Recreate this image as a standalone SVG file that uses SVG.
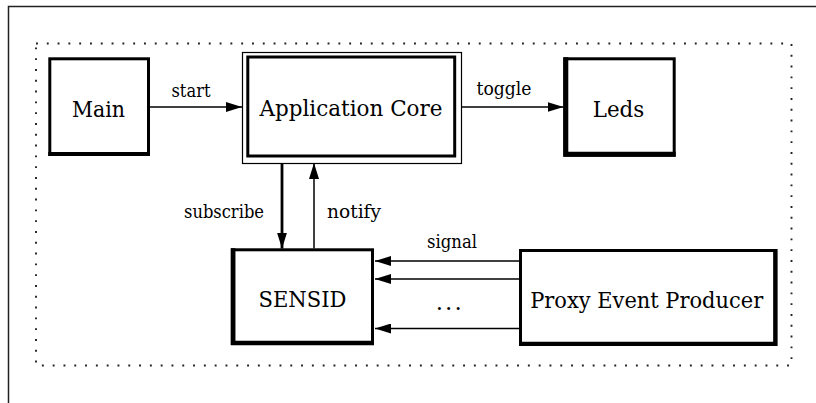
<svg xmlns="http://www.w3.org/2000/svg" width="816" height="403" viewBox="0 0 816 403">
  <style>
    .frame { fill: none; stroke: #222; stroke-width: 1.5; }
    .dotted { fill: none; stroke: #222; stroke-width: 1.9; stroke-dasharray: 1.9 8.9; }
    .box { fill: #fff; stroke: #000; stroke-width: 3; }
    .shadow { fill: none; stroke: #000; }
    .thin { fill: none; stroke: #000; stroke-width: 1.2; }
    .label { font-family: 'DejaVu Serif', 'Liberation Serif', serif; fill: #000; text-anchor: middle; }
    .name { font-size: 23px; }
    .edge-label { font-size: 18px; }
    .conn { fill: none; stroke: #000; stroke-width: 1.5; }
    .conn-bold { fill: none; stroke: #000; stroke-width: 2.8; }
  </style>
  <defs>
    <marker id="arrow" viewBox="0 0 16 10" refX="16" refY="5" markerWidth="16" markerHeight="10" markerUnits="userSpaceOnUse" orient="auto">
      <path d="M0,0 L16,5 L0,10 Z" fill="#000"/>
    </marker>
  </defs>

  <rect width="816" height="403" fill="#fff"/>

  <!-- page frame (only top and left edges fall inside the view) -->
  <path class="frame" d="M8.5,403 V6.5 H816"/>

  <!-- dotted system boundary -->
  <rect class="dotted" x="36" y="43.5" width="755.5" height="322"/>

  <g id="main">
    <rect class="box" x="49.8" y="58.8" width="98.7" height="95.7"/>
    <line class="shadow" x1="48.3" y1="154" x2="150" y2="154" stroke-width="4"/>
    <text class="label name" x="98.5" y="116.5" textLength="53" lengthAdjust="spacingAndGlyphs">Main</text>
  </g>

  <g id="application-core">
    <rect class="thin" x="242.5" y="52.5" width="219" height="111"/>
    <rect class="box" x="247.8" y="57" width="206.9" height="99" stroke-width="4.2"/>
    <text class="label name" x="351" y="116" textLength="183" lengthAdjust="spacingAndGlyphs">Application Core</text>
  </g>

  <g id="leds">
    <rect class="box" x="564.8" y="58.8" width="109.4" height="96.4"/>
    <path class="shadow" d="M565.8,57.3 V154.2 H675.7" stroke-width="5"/>
    <text class="label name" x="618.5" y="117" textLength="51.5" lengthAdjust="spacingAndGlyphs">Leds</text>
  </g>

  <g id="sensid">
    <rect class="box" x="232.2" y="249.8" width="140.3" height="93.7"/>
    <path class="shadow" d="M233.2,248.3 V343 H374" stroke-width="4.5"/>
    <text class="label name" x="302.5" y="307.3" textLength="88" lengthAdjust="spacingAndGlyphs">SENSID</text>
  </g>

  <g id="proxy-event-producer">
    <rect class="box" x="520.5" y="250.5" width="255.3" height="94"/>
    <path class="shadow" d="M519,343.8 H775.3 V249" stroke-width="4.3"/>
    <text class="label name" x="646.7" y="308.3" textLength="233" lengthAdjust="spacingAndGlyphs">Proxy Event Producer</text>
  </g>

  <g id="connectors">
    <!-- Main -> Application Core -->
    <line class="conn" x1="150" y1="107" x2="242" y2="107" marker-end="url(#arrow)"/>
    <text class="label edge-label" x="191" y="96.5" textLength="39" lengthAdjust="spacingAndGlyphs">start</text>

    <!-- Application Core -> Leds -->
    <line class="conn" x1="461.5" y1="107" x2="563.5" y2="107" marker-end="url(#arrow)"/>
    <text class="label edge-label" x="504" y="95" textLength="55" lengthAdjust="spacingAndGlyphs">toggle</text>

    <!-- Application Core -> SENSID -->
    <line class="conn-bold" x1="282" y1="163.5" x2="282" y2="248.5" marker-end="url(#arrow)"/>
    <text class="label edge-label" x="224" y="218.3" textLength="80" lengthAdjust="spacingAndGlyphs">subscribe</text>

    <!-- SENSID -> Application Core -->
    <line class="conn" x1="314" y1="248.5" x2="314" y2="163" marker-end="url(#arrow)"/>
    <text class="label edge-label" x="354" y="218.3" textLength="54" lengthAdjust="spacingAndGlyphs">notify</text>

    <!-- Proxy Event Producer -> SENSID -->
    <line class="conn" x1="519" y1="261" x2="375" y2="261" marker-end="url(#arrow)"/>
    <line class="conn" x1="519" y1="279" x2="375" y2="279" marker-end="url(#arrow)"/>
    <line class="conn" x1="519" y1="328.5" x2="375" y2="328.5" marker-end="url(#arrow)"/>
    <text class="label edge-label" x="452" y="248" textLength="50" lengthAdjust="spacingAndGlyphs">signal</text>
    <text class="label name" x="448.7" y="310" textLength="26" lengthAdjust="spacing">...</text>
  </g>
</svg>
